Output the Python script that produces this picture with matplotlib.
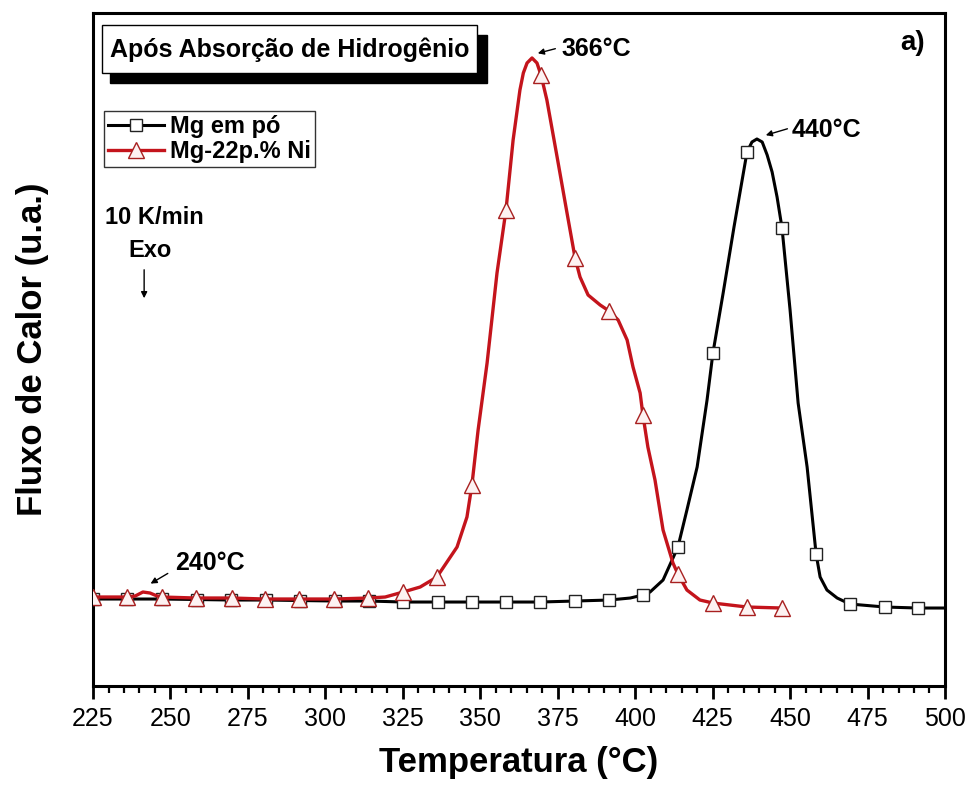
import matplotlib
matplotlib.use("Agg")
import matplotlib.pyplot as plt
from matplotlib.lines import Line2D
from matplotlib.patches import Rectangle
from matplotlib.ticker import MultipleLocator

plt.rcParams["font.family"] = ["Liberation Sans", "DejaVu Sans"]

# ──────────────────────────────────────────────
# Data (heat flow in arbitrary units)
# ──────────────────────────────────────────────
# Mg em pó (black) - curve
t_mg = [225.0, 236.0, 247.3, 258.6, 269.5, 280.8, 291.8, 303.1, 314.1, 325.1,
        336.4, 347.3, 358.3, 369.3, 380.6, 391.6, 398.4, 402.5, 404.8, 409.0,
        413.8, 416.7, 420.0, 423.2, 425.1, 428.4, 431.9, 436.1, 437.7, 439.3,
        441.0, 442.6, 444.2, 445.8, 447.4, 450.0, 452.6, 455.5, 458.4, 459.7,
        461.9, 465.2, 469.3, 480.6, 491.3, 500.0]
q_mg = [0.01, 0.01, 0.01, 0.005, 0.0, 0.0, -0.005, -0.01, -0.01, -0.02,
        -0.02, -0.02, -0.02, -0.02, -0.01, 0.0, 0.02, 0.05, 0.08, 0.20,
        0.53, 0.90, 1.33, 2.00, 2.47, 3.07, 3.73, 4.48, 4.58, 4.61,
        4.58, 4.45, 4.28, 4.03, 3.72, 2.90, 1.97, 1.33, 0.46, 0.23,
        0.10, 0.02, -0.04, -0.07, -0.08, -0.08]
# Mg em pó - marker positions
t_mg_mk = [225.0, 236.0, 247.3, 258.6, 269.5, 280.8, 291.8, 303.1, 314.1, 325.1,
           336.4, 347.3, 358.3, 369.3, 380.6, 391.6, 402.5, 413.8, 425.1, 436.1,
           447.4, 458.4, 469.3, 480.6, 491.3]
q_mg_mk = [0.01, 0.01, 0.01, 0.005, 0.0, 0.0, -0.005, -0.01, -0.01, -0.02,
           -0.02, -0.02, -0.02, -0.02, -0.01, 0.0, 0.05, 0.53, 2.47, 4.48,
           3.72, 0.46, -0.04, -0.07, -0.08]

# Mg-22p.% Ni (red) - curve
t_ni = [225.0, 236.0, 238.6, 241.1, 243.4, 245.7, 247.3, 258.2, 269.9, 280.5,
        291.5, 302.8, 313.8, 319.3, 325.1, 330.6, 336.0, 342.5, 345.7, 347.3,
        349.3, 352.2, 355.4, 358.3, 360.6, 362.8, 363.9, 365.1, 366.7, 368.3,
        369.6, 371.5, 374.8, 378.0, 380.6, 382.2, 384.8, 388.7, 391.6, 394.5,
        397.4, 399.3, 401.6, 402.5, 404.1, 406.4, 409.0, 412.2, 413.8, 416.7,
        420.9, 425.1, 436.1, 447.4]
q_ni = [0.03, 0.03, 0.04, 0.08, 0.07, 0.04, 0.03, 0.02, 0.02, 0.01,
        0.01, 0.01, 0.02, 0.03, 0.08, 0.13, 0.23, 0.53, 0.83, 1.15,
        1.70, 2.37, 3.27, 3.90, 4.60, 5.10, 5.27, 5.37, 5.42, 5.37,
        5.25, 5.00, 4.43, 3.87, 3.42, 3.23, 3.05, 2.95, 2.89, 2.80,
        2.60, 2.33, 2.07, 1.85, 1.53, 1.20, 0.70, 0.37, 0.26, 0.10,
        0.00, -0.03, -0.07, -0.08]
# Mg-22p.% Ni - marker positions
t_ni_mk = [225.0, 236.0, 247.3, 258.2, 269.9, 280.5, 291.5, 302.8, 313.8, 325.1,
           336.0, 347.3, 358.3, 369.6, 380.6, 391.6, 402.5, 413.8, 425.1, 436.1,
           447.4]
q_ni_mk = [0.03, 0.03, 0.03, 0.02, 0.02, 0.01, 0.01, 0.01, 0.02, 0.08,
           0.23, 1.15, 3.90, 5.25, 3.42, 2.89, 1.85, 0.26, -0.03, -0.07,
           -0.08]

labels = ["Mg em pó", "Mg-22p.% Ni"]
peak_labels = ["366°C", "440°C", "240°C"]

red = "#C4141C"

# ──────────────────────────────────────────────
# Figure
# ──────────────────────────────────────────────
fig = plt.figure(figsize=(9.71, 7.87), dpi=100)
ax = fig.add_axes([0.0958, 0.1283, 0.8774, 0.8552])

ax.plot(t_mg, q_mg, "-", color="black", lw=2.2, zorder=3)
ax.plot(t_mg_mk, q_mg_mk, "s", ms=9, mfc="white", mec="#222222", mew=1.0, zorder=4)
ax.plot(t_ni, q_ni, "-", color=red, lw=2.4, zorder=5)
ax.plot(t_ni_mk, q_ni_mk, "^", ms=11, mfc="#FDF2F2", mec="#A82020", mew=1.0, zorder=6)

ax.set_xlim(225, 500)
ax.set_ylim(-0.86, 5.87)

# axes styling
for sp in ax.spines.values():
    sp.set_linewidth(2.2)
ax.xaxis.set_major_locator(MultipleLocator(25))
ax.xaxis.set_minor_locator(MultipleLocator(5))
ax.tick_params(axis="x", which="major", direction="out", length=9, width=2.0,
               labelsize=18, pad=6)
ax.tick_params(axis="x", which="minor", direction="out", length=5, width=1.6)
ax.tick_params(axis="y", left=False, labelleft=False)

ax.set_xlabel("Temperatura (°C)", fontsize=25, fontweight="bold", labelpad=11)
ax.set_ylabel("Fluxo de Calor (u.a.)", fontsize=25, fontweight="bold", labelpad=32)

# title box with drop shadow
ax.add_patch(Rectangle((0.0200, 0.896), 0.4424, 0.071, transform=ax.transAxes,
                       fc="black", ec="black", zorder=7))
ax.add_patch(Rectangle((0.0106, 0.911), 0.4401, 0.071, transform=ax.transAxes,
                       fc="white", ec="black", lw=1.0, zorder=8))
ax.text(0.231, 0.946, "Após Absorção de Hidrogênio", transform=ax.transAxes,
        ha="center", va="center", fontsize=18, fontweight="bold", zorder=9)

# legend
handles = [
    Line2D([], [], color="black", lw=2.2, marker="s", ms=9, mfc="white", mec="#222222"),
    Line2D([], [], color=red, lw=2.4, marker="^", ms=11, mfc="#FDF2F2", mec="#A82020"),
]
leg = ax.legend(handles, labels, loc="upper left", bbox_to_anchor=(0.0129, 0.854),
                prop={"size": 17, "weight": "bold"}, frameon=True, fancybox=False,
                borderpad=0.15, handlelength=2.4, handletextpad=0.25,
                labelspacing=0.1, borderaxespad=0, numpoints=1)
leg.get_frame().set_edgecolor("black")
leg.get_frame().set_linewidth(1.0)

# peak annotations
arrow = dict(arrowstyle="-|>", color="black", lw=1.0, mutation_scale=9)
ax.annotate("", xy=(367.7, 5.46), xytext=(375.1, 5.52), arrowprops=arrow, zorder=10)
ax.text(376.2, 5.51, peak_labels[0], fontsize=18, fontweight="bold", va="center", ha="left")
ax.annotate("", xy=(441.3, 4.64), xytext=(450.0, 4.72), arrowprops=arrow, zorder=10)
ax.text(450.6, 4.70, peak_labels[1], fontsize=18, fontweight="bold", va="center", ha="left")
ax.annotate("", xy=(242.8, 0.15), xytext=(249.9, 0.28), arrowprops=arrow, zorder=10)
ax.text(251.5, 0.37, peak_labels[2], fontsize=18, fontweight="bold", va="center", ha="left")

# heating rate / exo direction
ax.text(228.9, 3.82, "10 K/min", fontsize=17, fontweight="bold", va="center", ha="left")
ax.text(243.4, 3.50, "Exo", fontsize=17, fontweight="bold", va="center", ha="center")
ax.annotate("", xy=(241.5, 2.99), xytext=(241.5, 3.33), arrowprops=arrow)

ax.text(489.4, 5.57, "a)", fontsize=20, fontweight="bold", va="center", ha="center")

plt.savefig("out.png", dpi=100)
